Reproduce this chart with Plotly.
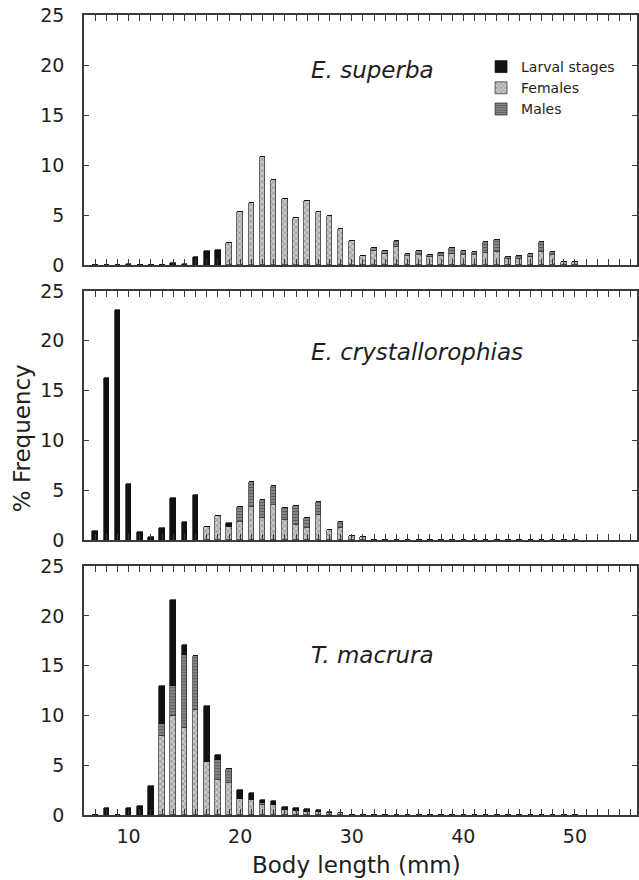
import plotly.graph_objects as go

# ---------------- data ----------------
body_length_mm = list(range(7, 51))  # 7 .. 50 mm

# E. superba (% frequency)
superba_larval = [0, 0, 0, 0.15, 0, 0, 0, 0.25, 0.15, 0.85, 1.4, 1.5,
                  0, 0, 0, 0, 0, 0, 0, 0, 0, 0, 0, 0,
                  0, 0, 0, 0, 0, 0, 0, 0, 0, 0, 0, 0,
                  0, 0, 0, 0, 0, 0, 0, 0]
superba_female = [0, 0, 0, 0, 0, 0, 0, 0, 0, 0, 0, 0,
                  2.2, 5.35, 6.2, 10.8, 8.5, 6.6, 4.7, 6.4, 5.35, 4.9, 3.6, 2.45,
                  0.9, 1.4, 1.1, 1.8, 0.9, 1.0, 0.8, 0.9, 1.1, 1.0, 1.0, 1.2,
                  1.3, 0.6, 0.6, 0.8, 1.3, 1.0, 0.35, 0.3]
superba_male = [0, 0, 0, 0, 0, 0, 0, 0, 0, 0, 0, 0,
                0, 0, 0, 0, 0, 0, 0, 0, 0, 0, 0, 0,
                0, 0.3, 0.3, 0.6, 0.2, 0.4, 0.2, 0.3, 0.6, 0.4, 0.35, 1.1,
                1.2, 0.2, 0.3, 0.3, 1.0, 0.35, 0, 0]

# E. crystallorophias
crystal_larval = [0.95, 16.25, 23.1, 5.6, 0.8, 0.35, 1.2, 4.2, 1.8, 4.55, 0, 0,
                  0.4, 0, 0, 0, 0, 0, 0, 0, 0, 0, 0, 0,
                  0, 0, 0, 0, 0, 0, 0, 0, 0, 0, 0, 0,
                  0, 0, 0, 0, 0, 0, 0, 0]
crystal_female = [0, 0, 0, 0, 0, 0, 0, 0, 0, 0, 1.3, 2.45,
                  1.3, 1.8, 3.3, 2.2, 3.5, 2.0, 1.5, 1.2, 2.5, 1.0, 1.2, 0.37,
                  0.3, 0, 0, 0, 0, 0, 0, 0, 0, 0, 0, 0,
                  0, 0, 0, 0, 0, 0, 0, 0]
crystal_male = [0, 0, 0, 0, 0, 0, 0, 0, 0, 0, 0, 0,
                0, 1.55, 2.55, 1.85, 1.9, 1.2, 1.95, 1.0, 1.35, 0, 0.6, 0,
                0, 0, 0, 0, 0, 0, 0, 0, 0, 0, 0, 0,
                0, 0, 0, 0, 0, 0, 0, 0]

# T. macrura
macrura_larval = [0, 0.7, 0, 0.7, 0.9, 2.85, 3.8, 8.7, 1.0, 0, 5.6, 0.5,
                  0, 0.9, 0.7, 0.3, 0.35, 0.3, 0.3, 0.25, 0.25, 0.1, 0, 0,
                  0, 0, 0, 0, 0, 0, 0, 0, 0, 0, 0, 0,
                  0, 0, 0, 0, 0, 0, 0, 0]
macrura_female = [0, 0, 0, 0, 0, 0, 7.9, 9.9, 8.7, 10.5, 5.35, 3.5,
                  3.15, 1.6, 1.5, 1.0, 1.0, 0.45, 0.35, 0.3, 0.25, 0.2, 0.15, 0,
                  0, 0, 0, 0, 0, 0, 0, 0, 0, 0, 0, 0,
                  0, 0, 0, 0, 0, 0, 0, 0]
macrura_male = [0, 0, 0, 0, 0, 0, 1.2, 3.0, 7.4, 5.5, 0, 2.0,
                1.45, 0, 0, 0.2, 0, 0, 0, 0, 0, 0, 0, 0,
                0, 0, 0, 0, 0, 0, 0, 0, 0, 0, 0, 0,
                0, 0, 0, 0, 0, 0, 0, 0]

species_names = ["E. superba", "E. crystallorophias", "T. macrura"]
stage_names = ["Larval stages", "Females", "Males"]
y_ticks = [0, 5, 10, 15, 20, 25]
x_tick_vals = list(range(6, 56))
x_tick_text = [str(v) if v % 10 == 0 else "" for v in x_tick_vals]

# ---------------- styling ----------------
FONT = "DejaVu Sans"
TXT = "#1e1e1e"
AX = "#3a3a3a"

styles = {
    "Females": dict(color="#bdbdbd", line=dict(color="#2a2a2a", width=0.7),
                    pattern=dict(shape="x", fgcolor="#3c3c3c", bgcolor="#c9c9c9",
                                 size=4, solidity=0.3)),
    "Males": dict(color="#7a7a7a", line=dict(color="#2a2a2a", width=0.7),
                  pattern=dict(shape="-", fgcolor="#3a3a3a", bgcolor="#858585",
                               size=3, solidity=0.35)),
    "Larval stages": dict(color="#111111", line=dict(color="#111111", width=0.7)),
}
ranks = {"Larval stages": 1, "Females": 2, "Males": 3}

panels = [
    (superba_female, superba_male, superba_larval),
    (crystal_female, crystal_male, crystal_larval),
    (macrura_female, macrura_male, macrura_larval),
]

fig = go.Figure()
for i, (fem, mal, lar) in enumerate(panels):
    xa = "x" if i == 0 else f"x{i+1}"
    ya = "y" if i == 0 else f"y{i+1}"
    for name, vals in (("Females", fem), ("Males", mal), ("Larval stages", lar)):
        fig.add_trace(go.Bar(
            x=body_length_mm, y=vals, name=name, xaxis=xa, yaxis=ya,
            width=0.5, marker=styles[name], legendgroup=name,
            showlegend=(i == 0), legendrank=ranks[name],
        ))

domains = [[0.6875, 1.0], [0.34375, 0.655], [0.0, 0.311]]

layout = dict(
    width=639, height=880,
    margin=dict(l=84, r=0, t=15, b=65),
    paper_bgcolor="white", plot_bgcolor="white",
    barmode="stack", bargap=0,
    font=dict(family=FONT, color=TXT),
    showlegend=True,
    legend=dict(x=0.718, y=0.955, xanchor="left", yanchor="top",
                bgcolor="rgba(0,0,0,0)", font=dict(size=14, family=FONT, color=TXT),
                tracegroupgap=0, itemwidth=30),
)

for i in range(3):
    sx = "" if i == 0 else str(i + 1)
    layout[f"xaxis{sx}"] = dict(
        domain=[0, 1], anchor=f"y{sx}", range=[6.0, 55.56],
        tickmode="array", tickvals=x_tick_vals, ticktext=x_tick_text,
        showticklabels=(i == 2), ticks="inside", ticklen=6, tickwidth=1.2,
        tickcolor=AX, showline=True, linecolor=AX, linewidth=1.5,
        mirror="ticks", showgrid=False, zeroline=False,
        tickfont=dict(size=19, family=FONT, color=TXT), ticklabelstandoff=3,
    )
    layout[f"yaxis{sx}"] = dict(
        domain=domains[i], anchor=f"x{sx}", range=[0, 25],
        tickmode="array", tickvals=y_ticks, ticks="inside", ticklen=5,
        tickwidth=1.2, tickcolor=AX, showline=True, linecolor=AX, linewidth=1.5,
        mirror="ticks", showgrid=False, zeroline=False,
        tickfont=dict(size=19, family=FONT, color=TXT), ticklabelstandoff=14,
    )

fig.update_layout(**layout)

# species labels
label_y = [19.5, 18.9, 16.1]
for i, (name, yy) in enumerate(zip(species_names, label_y)):
    sx = "" if i == 0 else str(i + 1)
    fig.add_annotation(text=f"<i>{name}</i>", x=26.2, y=yy, xref=f"x{sx}", yref=f"y{sx}",
                       xanchor="left", yanchor="middle", showarrow=False,
                       font=dict(size=23, family=FONT, color=TXT))

fig.add_annotation(text="% Frequency", x=-0.112, y=0.471, xref="paper", yref="paper",
                   textangle=-90, showarrow=False, xanchor="center", yanchor="middle",
                   font=dict(size=23, family=FONT, color=TXT))
fig.add_annotation(text="Body length (mm)", x=0.492, y=-0.0625, xref="paper", yref="paper",
                   showarrow=False, xanchor="center", yanchor="middle",
                   font=dict(size=23, family=FONT, color=TXT))

fig.write_html("out.html")
